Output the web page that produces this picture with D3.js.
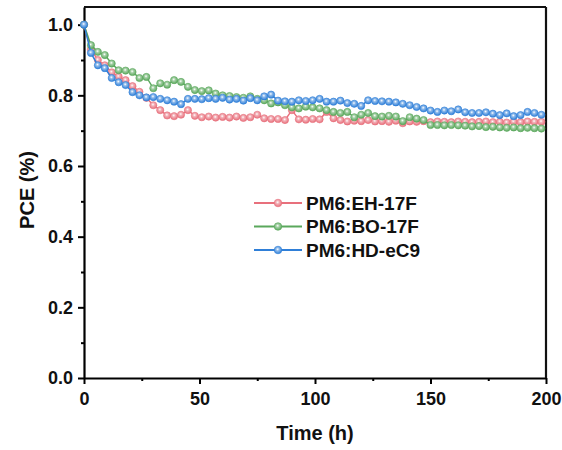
<!DOCTYPE html>
<meta charset="utf-8">
<script src="https://d3js.org/d3.v7.min.js"></script>
<style>
  body { margin: 0; background: #fff; }
  text { font-family: "Liberation Sans", Arial, sans-serif; font-weight: bold; }
</style>
<div id="my_dataviz"></div>
<script>
// time points (h)
const times = [0,3,6,9,12,15,18,21,24,27,30,33,36,39,42,45,48,51,54,57,60,63,66,69,72,75,78,81,84,87,90,93,96,99,
  102,105,108,111,114,117,120,123,126,129,132,135,138,141,144,147,150,153,156,159,162,165,168,171,174,177,180,183,186,189,192,195,198];

// normalized PCE
const eh17f = [1.00,0.93,0.90,0.885,0.865,0.853,0.843,0.826,0.81,0.793,0.772,0.758,0.743,0.741,0.745,0.758,0.742,0.738,0.740,0.737,
  0.739,0.737,0.740,0.736,0.738,0.745,0.735,0.733,0.733,0.730,0.758,0.732,0.731,0.733,0.732,0.753,0.735,0.730,0.726,0.728,
  0.727,0.730,0.726,0.727,0.725,0.728,0.721,0.726,0.725,0.727,0.724,0.726,0.725,0.724,0.726,0.725,0.724,0.725,0.726,0.724,
  0.725,0.723,0.725,0.724,0.726,0.725,0.725];
const bo17f = [1.00,0.942,0.923,0.914,0.89,0.871,0.870,0.866,0.849,0.852,0.820,0.834,0.830,0.843,0.838,0.824,0.815,0.812,0.814,0.805,
  0.800,0.798,0.795,0.793,0.797,0.790,0.786,0.777,0.780,0.772,0.766,0.763,0.768,0.766,0.763,0.758,0.753,0.750,0.753,0.738,
  0.745,0.750,0.741,0.740,0.742,0.740,0.727,0.738,0.734,0.730,0.716,0.716,0.715,0.716,0.715,0.714,0.712,0.713,0.710,0.711,
  0.709,0.708,0.709,0.707,0.708,0.707,0.706];
const hdec9 = [1.00,0.92,0.885,0.877,0.849,0.837,0.829,0.809,0.800,0.794,0.795,0.790,0.786,0.782,0.775,0.790,0.790,0.789,0.792,0.790,
  0.793,0.788,0.790,0.785,0.792,0.786,0.797,0.802,0.785,0.783,0.782,0.786,0.784,0.786,0.790,0.782,0.782,0.785,0.778,0.776,
  0.770,0.786,0.784,0.783,0.782,0.780,0.776,0.772,0.767,0.763,0.757,0.753,0.757,0.755,0.760,0.752,0.750,0.750,0.752,0.748,
  0.744,0.749,0.741,0.744,0.753,0.750,0.745];

const seriesNames = ["PM6:EH-17F", "PM6:BO-17F", "PM6:HD-eC9"];
const seriesValues = [eh17f, bo17f, hdec9];
const seriesColors = ["#e8707c", "#5aa85c", "#2f7fd8"];

const xTicks = [0, 50, 100, 150, 200];
const yTicks = [0.0, 0.2, 0.4, 0.6, 0.8, 1.0];

const W = 562, H = 450;
const margin = {top: 7, right: 16, bottom: 72, left: 84};
const width = W - margin.left - margin.right;
const height = H - margin.top - margin.bottom;

const svg = d3.select("#my_dataviz").append("svg")
  .attr("width", W).attr("height", H);

// marker gradients (light centre)
const defs = svg.append("defs");
seriesColors.forEach((c, i) => {
  const g = defs.append("radialGradient").attr("id", "mk" + i)
    .attr("cx", "45%").attr("cy", "40%").attr("r", "60%");
  g.append("stop").attr("offset", "0%").attr("stop-color", "#ffffff");
  g.append("stop").attr("offset", "35%").attr("stop-color", d3.interpolateRgb(c, "#fff")(0.45));
  g.append("stop").attr("offset", "100%").attr("stop-color", c);
});

const g = svg.append("g").attr("transform", `translate(${margin.left},${margin.top})`);

const x = d3.scaleLinear().domain([0, 200]).range([0, width]);
const y = d3.scaleLinear().domain([0, 1.05]).range([height, 0]);

// minor ticks
g.append("g").attr("transform", `translate(0,${height})`)
  .call(d3.axisBottom(x).tickValues([25, 75, 125, 175]).tickSize(3).tickFormat(""))
  .call(a => a.select(".domain").remove())
  .call(a => a.selectAll("line").attr("stroke-width", 2));
g.append("g")
  .call(d3.axisLeft(y).tickValues([0.1, 0.3, 0.5, 0.7, 0.9]).tickSize(3).tickFormat(""))
  .call(a => a.select(".domain").remove())
  .call(a => a.selectAll("line").attr("stroke-width", 2));

// major axes
const xAxis = g.append("g").attr("transform", `translate(0,${height})`)
  .call(d3.axisBottom(x).tickValues(xTicks).tickSize(6).tickSizeOuter(0).tickPadding(8));
const yAxis = g.append("g")
  .call(d3.axisLeft(y).tickValues(yTicks).tickSize(6).tickSizeOuter(0).tickPadding(5).tickFormat(d3.format(".1f")));
[xAxis, yAxis].forEach(a => {
  a.select(".domain").attr("stroke-width", 2.2);
  a.selectAll("line").attr("stroke-width", 2);
  a.selectAll("text").attr("font-size", 18).attr("fill", "#111")
    .attr("font-family", "Liberation Sans, Arial, sans-serif").attr("font-weight", "bold");
});

// frame top/right
g.append("line").attr("x1", 0).attr("x2", width).attr("y1", 0).attr("y2", 0)
  .attr("stroke", "#111").attr("stroke-width", 2.2);
g.append("line").attr("x1", width).attr("x2", width).attr("y1", 0).attr("y2", height)
  .attr("stroke", "#111").attr("stroke-width", 2.2);

// series
const line = d3.line().x((d, i) => x(times[i])).y(d => y(d));
seriesValues.forEach((vals, s) => {
  g.append("path").datum(vals)
    .attr("fill", "none").attr("stroke", seriesColors[s]).attr("stroke-width", 1.5)
    .attr("d", line);
  g.append("g").selectAll("circle").data(vals).join("circle")
    .attr("cx", (d, i) => x(times[i])).attr("cy", d => y(d))
    .attr("r", 3.6)
    .attr("fill", `url(#mk${s})`)
    .attr("stroke", seriesColors[s]).attr("stroke-width", 0.6);
});

// legend
const legend = g.append("g").attr("transform", `translate(${254 - margin.left},${203 - margin.top})`);
seriesNames.forEach((name, i) => {
  const row = legend.append("g").attr("transform", `translate(0,${i * 23.5})`);
  row.append("line").attr("x1", 0).attr("x2", 48).attr("y1", 0).attr("y2", 0)
    .attr("stroke", seriesColors[i]).attr("stroke-width", 1.8);
  row.append("circle").attr("cx", 24).attr("cy", 0).attr("r", 3.8)
    .attr("fill", `url(#mk${i})`).attr("stroke", seriesColors[i]).attr("stroke-width", 0.6);
  row.append("text").attr("x", 52).attr("y", 0).attr("dy", "0.36em")
    .attr("font-size", 19).attr("fill", "#111").text(name);
});

// axis titles
svg.append("text").attr("x", margin.left + width / 2).attr("y", 440)
  .attr("text-anchor", "middle").attr("font-size", 20).attr("fill", "#111").text("Time (h)");
svg.append("text").attr("transform", `translate(34,190) rotate(-90)`)
  .attr("text-anchor", "middle").attr("font-size", 20).attr("fill", "#111").text("PCE (%)");
</script>
